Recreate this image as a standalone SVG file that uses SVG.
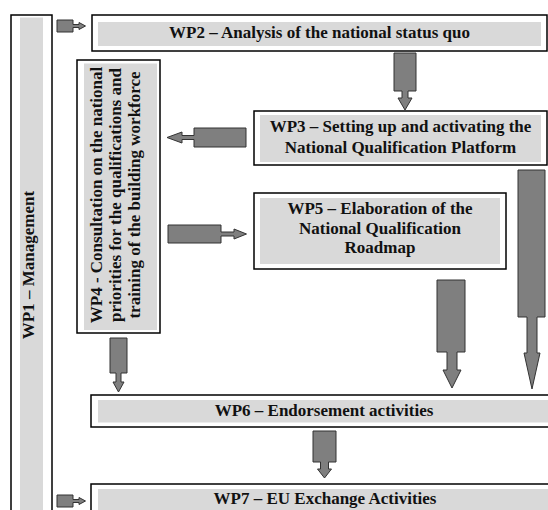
<svg xmlns="http://www.w3.org/2000/svg" width="548" height="510" viewBox="0 0 548 510">
<style>
.outer{fill:#fff;stroke:#000;stroke-width:1.5}
.inner{fill:#d9d9d9;stroke:none}
.t{font-family:"Liberation Serif","Times New Roman",serif;font-weight:bold;font-size:17px;fill:#111;text-anchor:middle}
.arr{fill:#7f7f7f;stroke:#333;stroke-width:1;stroke-linejoin:miter}
</style>
<rect width="548" height="510" fill="#fff"/>
<g id="wp1">
<rect class="outer" x="11" y="15" width="41" height="520"/>
<rect class="inner" x="20" y="17.5" width="23" height="520"/>
<text class="t" transform="translate(34,265) rotate(-90)">WP1 – Management</text>
</g>
<g id="wp2">
<rect class="outer" x="92" y="15" width="455" height="36"/>
<rect class="inner" x="98" y="22" width="443" height="24"/>
<text class="t" x="319.5" y="37.5">WP2 – Analysis of the national status quo</text>
</g>
<g id="wp4">
<rect class="outer" x="77" y="60" width="83" height="273"/>
<rect class="inner" x="84" y="63.5" width="73" height="266.5"/>
<text class="t" transform="translate(0,195) rotate(-90)"><tspan x="0" y="102">WP4 - Consultation on the national</tspan><tspan x="0" y="121">priorities for the qualifications and</tspan><tspan x="0" y="140">training of the building workforce</tspan></text>
</g>
<g id="wp3">
<rect class="outer" x="254" y="111" width="293" height="54"/>
<rect class="inner" x="260" y="115" width="281" height="47"/>
<text class="t"><tspan x="400.5" y="132">WP3 – Setting up and activating the</tspan><tspan x="400.5" y="152.5">National Qualification Platform</tspan></text>
</g>
<g id="wp5">
<rect class="outer" x="254" y="193" width="252" height="76"/>
<rect class="inner" x="260" y="198" width="240" height="66"/>
<text class="t"><tspan x="380" y="214">WP5 – Elaboration of the</tspan><tspan x="380" y="234">National Qualification</tspan><tspan x="380" y="253">Roadmap</tspan></text>
</g>
<g id="wp6">
<rect class="outer" x="91" y="395" width="470" height="32"/>
<rect class="inner" x="98" y="400" width="460" height="22.5"/>
<text class="t" x="324" y="416">WP6 – Endorsement activities</text>
</g>
<g id="wp7">
<rect class="outer" x="91" y="484" width="470" height="40"/>
<rect class="inner" x="98" y="489" width="460" height="30"/>
<text class="t" x="325" y="504">WP7 – EU Exchange Activities</text>
</g>
<g id="connectors">
<path class="arr" d="M57,20 H73 V24.5 H79 V22.5 L85.5,26 L79,29.5 V27.5 H73 V32 H57 Z"/>
<path class="arr" d="M57,495 H73 V499.5 H79 V497.5 L85.5,501 L79,504.5 V502.5 H73 V507 H57 Z"/>
<path class="arr" d="M394,53 H416 V91 H408 V98 H412 L405,110 L398,98 H402 V91 H394 Z"/>
<path class="arr" d="M246,128 V147 H194 V139.5 H182 V143 L167,137.5 L182,132 V135.5 H194 V128 Z"/>
<path class="arr" d="M168,225 H221 V232 H234 V229 L246.5,234 L234,239 V236 H221 V243 H168 Z"/>
<path class="arr" d="M518,170 H545 V317 H537 V353 H540 L532,389 L524,353 H527 V317 H518 Z"/>
<path class="arr" d="M437,280 H465 V352 H457 V370 H461 L452,388 L443,370 H447 V352 H437 Z"/>
<path class="arr" d="M110,338 H127 V373 H121 V382 H124 L118.5,392 L113,382 H116 V373 H110 Z"/>
<path class="arr" d="M313,431 H336 V462 H328.5 V469 H331.5 L324.5,478 L317.5,469 H320.5 V462 H313 Z"/>
</g>
</svg>
